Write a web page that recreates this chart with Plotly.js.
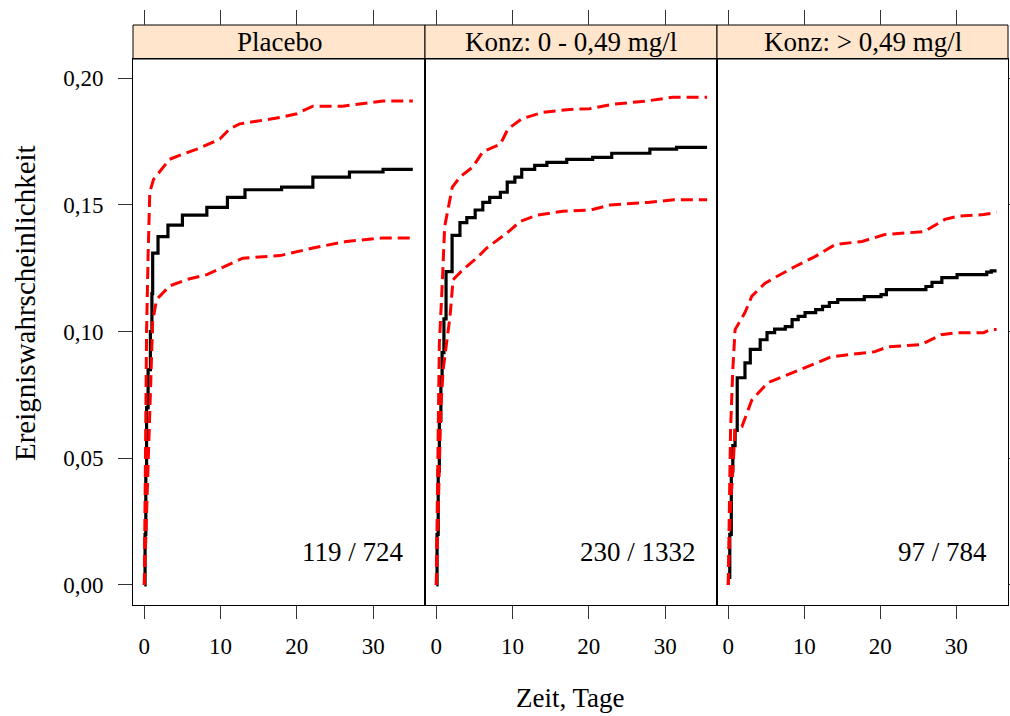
<!DOCTYPE html>
<html>
<head>
<meta charset="utf-8">
<script src="https://cdn.plot.ly/plotly-3.0.1.min.js"></script>
<style>html,body{margin:0;padding:0;background:#fff}#chart{width:1010px;height:716px}</style>
</head>
<body>
<div id="chart"></div>
<script>
// ---- data ----
const panelTitles = ["Placebo", "Konz: 0 - 0,49 mg/l", "Konz: > 0,49 mg/l"];
const countLabels = ["119 / 724", "230 / 1332", "97 / 784"];
const xTickVals = [0, 10, 20, 30];
const yTickVals = [0, 0.05, 0.10, 0.15, 0.20];
const yTickText = ["0,00", "0,05", "0,10", "0,15", "0,20"];

// Placebo
const p1_t   = [0, 0.1, 0.2, 0.3, 0.5, 0.8, 1.0, 1.1, 1.8, 3.1, 5.0, 8.2, 10.9, 13.2, 18.0, 22.1, 26.9, 31.3, 35.2];
const p1_est = [0, 0.02, 0.045, 0.07, 0.085, 0.10, 0.115, 0.131, 0.1375, 0.142, 0.146, 0.149, 0.153, 0.156, 0.157, 0.161, 0.163, 0.164, 0.164];
const p1_up_t = [0, 0.15, 0.3, 0.5, 0.72, 1.2, 2.0, 3.3, 5.0, 6.9, 9.9, 11.2, 12.5, 17.8, 20.0, 22.1, 26.0, 31.3, 35.2];
const p1_up   = [0, 0.05, 0.10, 0.13, 0.155, 0.16, 0.163, 0.168, 0.170, 0.172, 0.176, 0.18, 0.182, 0.1845, 0.186, 0.189, 0.189, 0.191, 0.191];
const p1_lo_t = [0, 0.3, 0.6, 0.9, 1.1, 1.6, 3.3, 5.6, 8.2, 10.8, 12.9, 17.8, 22.1, 26.5, 31.3, 34.8];
const p1_lo   = [0, 0.03, 0.064, 0.085, 0.104, 0.1126, 0.118, 0.1206, 0.1225, 0.126, 0.129, 0.130, 0.133, 0.1356, 0.137, 0.137];

// Konz: 0 - 0,49 mg/l
const p2_t   = [0, 0.1, 0.25, 0.4, 0.6, 0.76, 1.0, 1.28, 2.07, 3.1, 4.0, 5.1, 6.1, 7.0, 8.4, 9.3, 10.3, 11.2, 12.9, 14.5, 17.1, 20.5, 23.0, 28.0, 31.5, 35.5];
const p2_est = [0, 0.02, 0.045, 0.065, 0.082, 0.0917, 0.105, 0.1237, 0.138, 0.143, 0.145, 0.148, 0.151, 0.153, 0.155, 0.159, 0.161, 0.164, 0.1656, 0.1668, 0.168, 0.1688, 0.1704, 0.172, 0.1727, 0.1727];
const p2_up_t = [0, 0.2, 0.4, 0.8, 1.1, 2.1, 3.1, 4.8, 6.1, 8.4, 9.4, 11.2, 14.0, 17.5, 20.1, 23.1, 27.5, 31.0, 35.5];
const p2_up   = [0, 0.06, 0.095, 0.12, 0.1415, 0.157, 0.161, 0.165, 0.171, 0.174, 0.18, 0.184, 0.1866, 0.1877, 0.188, 0.1897, 0.191, 0.1925, 0.1925];
const p2_lo_t = [0, 0.3, 0.6, 0.9, 1.8, 2.2, 3.5, 5.5, 6.6, 9.3, 11.0, 13.2, 16.6, 20.2, 22.8, 27.7, 31.1, 35.5];
const p2_lo   = [0, 0.04, 0.07, 0.085, 0.106, 0.1205, 0.1245, 0.1296, 0.133, 0.139, 0.1435, 0.146, 0.1475, 0.148, 0.150, 0.151, 0.152, 0.152];

// Konz: > 0,49 mg/l
const p3_t   = [0, 0.2, 0.4, 0.6, 0.9, 1.18, 2.2, 2.9, 4.2, 5.1, 6.1, 7.5, 8.4, 9.2, 10.1, 11.5, 12.4, 13.3, 14.4, 17.9, 20.1, 20.8, 26.0, 26.8, 28.1, 30.1, 34.0, 34.6, 35.3];
const p3_est = [0.003, 0.02, 0.045, 0.055, 0.061, 0.0818, 0.0877, 0.093, 0.0968, 0.0996, 0.101, 0.102, 0.1047, 0.106, 0.1075, 0.1087, 0.11, 0.1115, 0.1126, 0.1138, 0.1146, 0.1166, 0.1178, 0.1194, 0.1213, 0.1225, 0.1235, 0.124, 0.124];
const p3_up_t = [0, 0.15, 0.3, 0.6, 0.9, 2.2, 3.1, 4.8, 6.1, 8.8, 11.4, 14.1, 17.6, 20.6, 25.8, 28.5, 30.1, 33.6, 35.3];
const p3_up   = [0, 0.03, 0.061, 0.085, 0.1008, 0.1075, 0.114, 0.119, 0.1213, 0.1257, 0.1296, 0.1344, 0.1356, 0.1383, 0.1395, 0.1443, 0.1455, 0.1462, 0.147];
const p3_lo_t = [0, 0.3, 0.5, 0.9, 1.8, 2.5, 3.1, 5.2, 8.4, 10.5, 13.6, 19.3, 21.0, 25.4, 28.0, 30.1, 33.6, 34.5, 35.3];
const p3_lo   = [0, 0.032, 0.04, 0.061, 0.0625, 0.068, 0.073, 0.0798, 0.0838, 0.0862, 0.0901, 0.0921, 0.094, 0.0949, 0.0988, 0.0996, 0.0996, 0.1008, 0.1008];

// ---- layout geometry ----
const W = 1010, H = 716;
const FONT = "Liberation Serif, Times New Roman, serif";
const panelPx = [[133, 425], [425, 717], [717, 1008]];
const xDomains = panelPx.map(p => [p[0] / W, p[1] / W]);
const yDomain = [(H - 605) / H, (H - 59) / H];
const stripTop = (H - 25) / H;
const xRange = [-1.48, 36.8];
const yRange = [-0.0079, 0.2076];

const panels = [
  {t: p1_t, est: p1_est, ut: p1_up_t, up: p1_up, lt: p1_lo_t, lo: p1_lo},
  {t: p2_t, est: p2_est, ut: p2_up_t, up: p2_up, lt: p2_lo_t, lo: p2_lo},
  {t: p3_t, est: p3_est, ut: p3_up_t, up: p3_up, lt: p3_lo_t, lo: p3_lo}
];

const traces = [];
panels.forEach((p, i) => {
  const xa = i === 0 ? 'x' : 'x' + (i + 1);
  const ya = i === 0 ? 'y' : 'y' + (i + 1);
  traces.push({type: 'scatter', mode: 'lines', x: p.t, y: p.est, xaxis: xa, yaxis: ya,
    line: {color: '#000000', width: 3.2, shape: 'hv'}, hoverinfo: 'skip', showlegend: false});
  traces.push({type: 'scatter', mode: 'lines', x: p.ut, y: p.up, xaxis: xa, yaxis: ya,
    line: {color: '#ff0000', width: 3, dash: '12px,6px'}, hoverinfo: 'skip', showlegend: false});
  traces.push({type: 'scatter', mode: 'lines', x: p.lt, y: p.lo, xaxis: xa, yaxis: ya,
    line: {color: '#ff0000', width: 3, dash: '12px,6px'}, hoverinfo: 'skip', showlegend: false});
  // empty trace so the top tick axis gets drawn
  traces.push({type: 'scatter', mode: 'lines', x: [], y: [], xaxis: 'x' + (i + 4), yaxis: ya,
    hoverinfo: 'skip', showlegend: false});
});

const tickFont = {family: FONT, size: 23, color: '#000'};
const layout = {
  width: W, height: H,
  margin: {l: 0, r: 0, t: 0, b: 0},
  paper_bgcolor: '#fff', plot_bgcolor: '#fff',
  showlegend: false,
  shapes: [], annotations: []
};

for (let i = 0; i < 3; i++) {
  const xk = i === 0 ? 'xaxis' : 'xaxis' + (i + 1);
  const yk = i === 0 ? 'yaxis' : 'yaxis' + (i + 1);
  const xa = i === 0 ? 'x' : 'x' + (i + 1);
  const ya = i === 0 ? 'y' : 'y' + (i + 1);
  layout[xk] = {domain: xDomains[i], anchor: ya, range: xRange, tickvals: xTickVals,
    ticktext: xTickVals.map(String), ticks: 'outside', ticklen: 13, tickwidth: 1, tickcolor: '#333',
    showline: true, linecolor: '#000', linewidth: 1, mirror: true, showgrid: false, zeroline: false,
    tickfont: tickFont, ticklabelstandoff: 7, fixedrange: true};
  layout[yk] = {domain: yDomain, anchor: xa, range: yRange, tickvals: yTickVals, ticktext: yTickText,
    ticks: i === 1 ? '' : 'outside', ticklen: 14, tickwidth: 1, tickcolor: '#333',
    side: i === 2 ? 'right' : 'left', showticklabels: i === 0,
    showline: true, linecolor: '#000', linewidth: 1, mirror: true, showgrid: false, zeroline: false,
    tickfont: tickFont, ticklabelstandoff: 10, fixedrange: true};
  // top tick axis above strip
  layout['xaxis' + (i + 4)] = {domain: xDomains[i], overlaying: xa, anchor: 'free', position: stripTop,
    side: 'top', range: xRange, tickvals: xTickVals, ticks: 'outside', ticklen: 15, tickwidth: 1,
    tickcolor: '#333', showticklabels: false, showline: false, showgrid: false, zeroline: false, fixedrange: true};
  // strip
  layout.shapes.push({type: 'rect', xref: 'paper', yref: 'paper', x0: xDomains[i][0], x1: xDomains[i][1],
    y0: yDomain[1], y1: stripTop, fillcolor: '#ffe5cc', line: {color: '#000', width: 1}, layer: 'below'});
  layout.annotations.push({xref: 'paper', yref: 'paper', x: (xDomains[i][0] + xDomains[i][1]) / 2,
    y: (yDomain[1] + stripTop) / 2, text: panelTitles[i], showarrow: false, xanchor: 'center', yanchor: 'middle',
    font: {family: FONT, size: 27, color: '#000'}});
  // count labels
  layout.annotations.push({xref: xa, yref: ya, x: 34.3, y: 0.013, text: countLabels[i], showarrow: false,
    xanchor: 'right', yanchor: 'middle', font: {family: FONT, size: 27, color: '#000'}});
}

layout.annotations.push({xref: 'paper', yref: 'paper', x: 570 / W, y: (H - 698) / H, text: 'Zeit, Tage',
  showarrow: false, xanchor: 'center', yanchor: 'middle', font: {family: FONT, size: 27, color: '#000'}});
layout.annotations.push({xref: 'paper', yref: 'paper', x: 25 / W, y: (H - 303) / H, text: 'Ereigniswahrscheinlichkeit',
  textangle: -90, showarrow: false, xanchor: 'center', yanchor: 'middle', font: {family: FONT, size: 29, color: '#000'}});

Plotly.newPlot('chart', traces, layout, {displayModeBar: false, staticPlot: true});
</script>
</body>
</html>
